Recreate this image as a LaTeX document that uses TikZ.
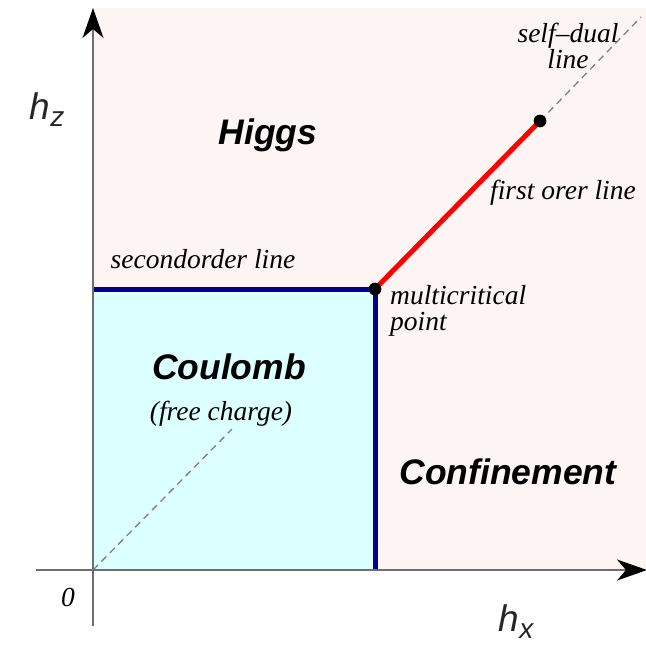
\documentclass[tikz,border=0pt]{standalone}
\usepackage{fontspec}
\setmainfont{Liberation Serif}
\setsansfont{Liberation Sans}
\usetikzlibrary{arrows.meta}
\definecolor{pinkbg}{RGB}{253,244,244}
\definecolor{cyanbg}{RGB}{220,255,255}
\definecolor{navy}{RGB}{0,0,140}
\definecolor{axisgray}{RGB}{110,110,110}
\tikzset{
  lbl/.style={font=\itshape\fontsize{27.5}{27.5}\selectfont, text=black, inner sep=0pt},
  region/.style={font=\sffamily\bfseries\itshape\fontsize{35.5}{35.5}\selectfont, inner sep=0pt},
  axlbl/.style={font=\sffamily\itshape\fontsize{37}{37}\selectfont, text=black!85, inner sep=0pt},
  axisline/.style={draw=axisgray, line width=1.8pt, -{Stealth[length=30pt,width=21pt,inset=9pt,color=black]}},
  phaseline/.style={line width=5pt},
  dot/.style={circle, fill=black, minimum size=12.5pt, inner sep=0pt},
  dual/.style={draw=gray, line width=1.3pt, dash pattern=on 7pt off 5pt}
}
\begin{document}
\begin{tikzpicture}[x=1pt,y=-1pt]
\useasboundingbox (0,0) rectangle (646,646);
% backgrounds
\fill[pinkbg] (93,8) rectangle (646,570);
\fill[cyanbg] (93,289) rectangle (375,570);
% coordinates
\coordinate (O) at (93,570);
\coordinate (dualend) at (232,429);
\coordinate (topend) at (641,17);
\coordinate (xstart) at (36,570);
\coordinate (xend) at (647,570);
\coordinate (ystart) at (93,626);
\coordinate (yend) at (93,8);
\coordinate (left) at (93,289);
\coordinate (bottom) at (375,570);
\node[dot] (mc) at (375,289) {};
\node[dot] (end) at (540,121) {};
% dashed self-dual lines
\draw[dual] (O) -- (dualend);
\draw[dual] (end.center) -- (topend);
% phase lines
\draw[phaseline, red] (mc.center) -- (end.center);
\draw[phaseline, navy] (left) -- (mc.center) -- (bottom);
\node[dot] at (mc) {};
\node[dot] at (end) {};
% axes
\draw[axisline] (xstart) -- (xend);
\draw[axisline] (ystart) -- (yend);
% labels
\node[axlbl] (hz) at (47,110) {h\raisebox{-0.35ex}{\fontsize{28}{28}\selectfont z}};
\node[axlbl] (hx) at (516,622) {h\raisebox{-0.35ex}{\fontsize{28}{28}\selectfont x}};
\node[lbl] (zero) at (68,597) {0};
\node[region] (higgs) at (268,135) {Higgs};
\node[region] (coulomb) at (229,367) {Coulomb};
\node[region] (conf) at (508,472) {Confinement};
\node[lbl] (free) at (221,414) {(free charge)};
\node[lbl] (second) at (203,259) {secondorder line};
\node[lbl, anchor=west, align=left] (multi) at (390,311) {multicritical\\[-2pt]point};
\node[lbl] (first) at (563,193) {first orer line};
\node[lbl, align=center] (self) at (568,46) {self\textendash dual\\[-2pt]line};
\end{tikzpicture}
\end{document}
